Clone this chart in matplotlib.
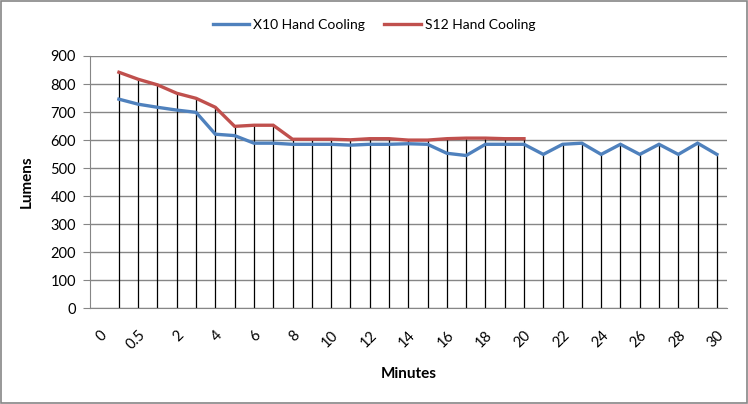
import numpy as np
import matplotlib.pyplot as plt
from matplotlib.patches import Rectangle

# -----------------------------
# Данные
# -----------------------------

minutes = ["0", "0.25", "0.5", "1", "2", "3", "4", "5", "6", "7", "8", "9", "10",
           "11", "12", "13", "14", "15", "16", "17", "18", "19", "20", "21", "22",
           "23", "24", "25", "26", "27", "28", "29", "30"]

x10 = [np.nan, 746, 728, 717, 707, 699, 621, 616, 589, 589, 585, 585, 585,
       582, 585, 585, 587, 585, 553, 545, 585, 585, 585, 549, 585, 589,
       549, 585, 549, 585, 549, 589, 549]

s12 = [np.nan, 842, 817, 797, 767, 749, 717, 649, 653, 653, 603, 603, 603,
       601, 605, 605, 600, 600, 605, 607, 607, 605, 605]

y_ticks = [0, 100, 200, 300, 400, 500, 600, 700, 800, 900]

# -----------------------------
# График
# -----------------------------

fig = plt.figure(figsize=(7.48, 4.04), dpi=100)
ax = fig.add_axes([0.1203, 0.2369, 0.8510, 0.6245])

x_all = np.arange(len(minutes))
x_s12 = np.arange(len(s12))
x10_arr = np.array(x10, dtype=float)
s12_arr = np.array(s12, dtype=float)

# линии проекции (drop lines) от верхней точки до оси
top = x10_arr.copy()
top[:len(s12_arr)] = np.fmax(x10_arr[:len(s12_arr)], s12_arr)
ok = ~np.isnan(top)
ax.vlines(x_all[ok], 0, top[ok], colors="black", linewidth=0.9, zorder=2)

ax.plot(x_all, x10_arr, color="#4F81BD", linewidth=2.4, label="X10 Hand Cooling",
        zorder=3, solid_joinstyle="miter")
ax.plot(x_s12, s12_arr, color="#C0504D", linewidth=2.4, label="S12 Hand Cooling",
        zorder=3, solid_joinstyle="miter")

ax.set_xlim(-0.5, len(minutes) - 0.5)
ax.set_ylim(0, 900)
ax.set_yticks(y_ticks)
ax.set_xticks(x_all[::2])
ax.set_xticklabels(minutes[::2], rotation=45, ha="right", va="top",
                   rotation_mode="anchor", fontsize=10.5, family="Lato")

for lbl in ax.get_yticklabels():
    lbl.set_family("Lato")
    lbl.set_fontsize(10.5)

ax.grid(axis="y", color="#868686", linewidth=1)
ax.set_axisbelow(True)
for side in ["top", "right"]:
    ax.spines[side].set_visible(False)
ax.spines["left"].set_color("#868686")
ax.spines["bottom"].set_color("#868686")
ax.tick_params(axis="y", length=5, color="#868686", pad=5)
ax.tick_params(axis="x", length=0, pad=14)

ax.set_xlabel("Minutes", fontsize=11, fontweight="bold", family="Lato", labelpad=11)
ax.set_ylabel("Lumens", fontsize=11, fontweight="bold", family="Lato", labelpad=12)

fig.legend(loc="upper center", bbox_to_anchor=(0.50, 0.985), ncol=2, frameon=False,
           prop={"family": "Lato", "size": 10}, handlelength=2.6, handletextpad=0.3,
           columnspacing=1.4)

fig.patches.append(Rectangle((0.001, 0.002), 0.997, 0.995, transform=fig.transFigure,
                             fill=False, edgecolor="#868686", linewidth=1.2))

plt.savefig("out.png", dpi=100)
